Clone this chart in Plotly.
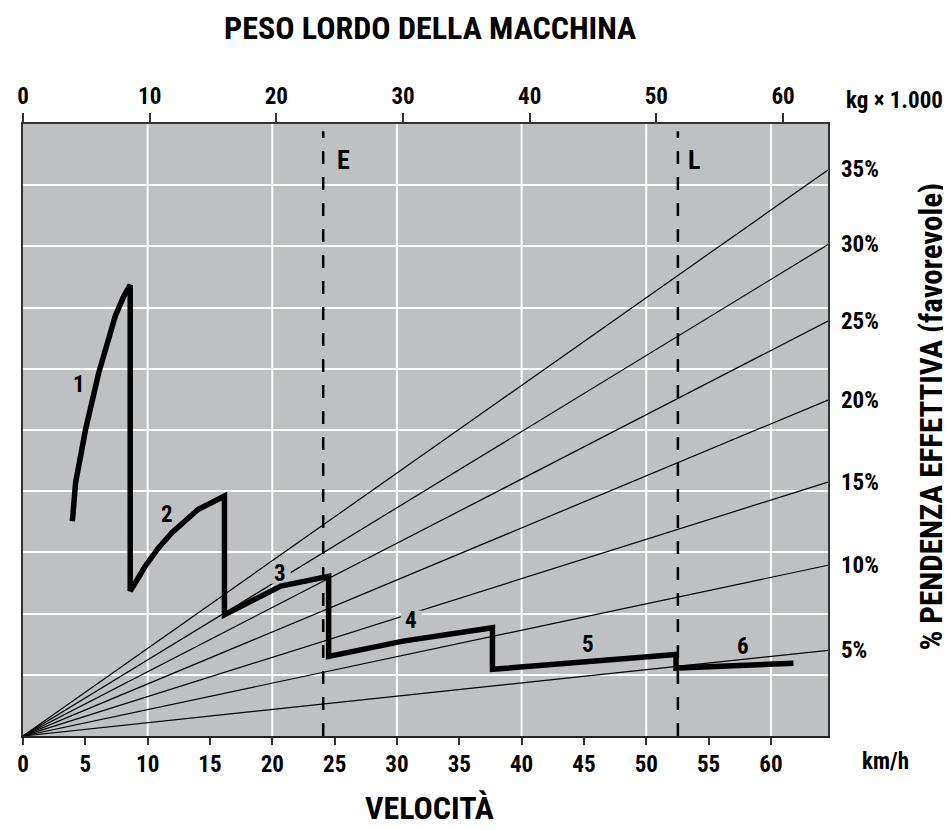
import plotly.graph_objects as go

# ---------------- data ----------------
SPEED = [3.96, 4.22, 5.02, 6.07, 7.40, 8.07, 8.60,
         8.60, 9.00, 9.79, 10.85, 11.92, 14.04, 16.16,
         16.16, 20.68, 24.52,
         24.52, 30.49, 37.66,
         37.66, 45.00, 52.39,
         52.39, 61.81]
FORCE = [3.51, 4.14, 5.01, 5.93, 6.86, 7.18, 7.37,
         2.37, 2.50, 2.77, 3.07, 3.32, 3.70, 3.92,
         1.98, 2.45, 2.61,
         1.30, 1.55, 1.77,
         1.09, 1.21, 1.33,
         1.11, 1.19]

GEAR_LABELS = ["1", "2", "3", "4", "5", "6"]
GEAR_X = [4.50, 11.54, 20.63, 31.16, 45.30, 57.77]
GEAR_Y = [5.74, 3.62, 2.66, 1.88, 1.49, 1.46]
GEAR_HALO = [False, False, True, True, False, False]

GRADES = [5, 10, 15, 20, 25, 30, 35]
GRADE_END_Y = [1.40, 2.79, 4.15, 5.49, 6.78, 8.03, 9.25]

WEIGHT_LABELS = ["E", "L"]
WEIGHT_KG = [23.7, 51.7]
WEIGHT_LABEL_X = [25.73, 53.84]
WEIGHT_LABEL_Y = [9.42, 9.42]

SPEED_TICKS = [0, 5, 10, 15, 20, 25, 30, 35, 40, 45, 50, 55, 60]
KG_TICKS = [0, 10, 20, 30, 40, 50, 60]
VGRID = [10, 20, 30, 40, 50, 60]

X_MAX = 64.58
KG_MAX = 63.55
Y_MAX = 10

FONT = "Roboto Condensed, DejaVu Sans Condensed, Roboto, sans-serif"
BG = "#bfc0c2"

fig = go.Figure()

# grade lines
for g, ye in zip(GRADES, GRADE_END_Y):
    fig.add_trace(go.Scatter(x=[0, X_MAX], y=[0, ye], mode="lines",
                             line=dict(color="black", width=1.2),
                             hoverinfo="skip", showlegend=False))

# knock-out halos behind some gear labels (cover grade lines only)
hx = [x for x, h in zip(GEAR_X, GEAR_HALO) if h]
hy = [y for y, h in zip(GEAR_Y, GEAR_HALO) if h]
fig.add_trace(go.Scatter(x=hx, y=hy, mode="markers",
                         marker=dict(symbol="square", size=21, color=BG, line=dict(width=0)),
                         hoverinfo="skip", showlegend=False))

# rimpull curve
fig.add_trace(go.Scatter(x=SPEED, y=FORCE, mode="lines",
                         line=dict(color="black", width=5.5),
                         showlegend=False))

# dummy trace for top axis
fig.add_trace(go.Scatter(x=[0, KG_MAX], y=[None, None], xaxis="x2",
                         mode="lines", showlegend=False, hoverinfo="skip"))

shapes = []
for v in VGRID:
    shapes.append(dict(type="line", xref="x", yref="y", x0=v, x1=v, y0=0, y1=Y_MAX,
                       line=dict(color="white", width=2), layer="below"))
for w in WEIGHT_KG:
    shapes.append(dict(type="line", xref="x2", yref="y", x0=w, x1=w, y0=0, y1=Y_MAX - 0.12,
                       line=dict(color="black", width=2.5, dash="13px,13px"), layer="above"))

annotations = []
for t, x, y in zip(GEAR_LABELS, GEAR_X, GEAR_Y):
    annotations.append(dict(x=x, y=y, xref="x", yref="y", text=t, showarrow=False,
                            font=dict(family=FONT, size=23, color="black", weight=700)))
for t, x, y in zip(WEIGHT_LABELS, WEIGHT_LABEL_X, WEIGHT_LABEL_Y):
    annotations.append(dict(x=x, y=y, xref="x", yref="y", text=t, showarrow=False,
                            font=dict(family=FONT, size=26, color="black", weight=700)))
for g, ye in zip(GRADES, GRADE_END_Y):
    annotations.append(dict(x=X_MAX, y=ye, xref="x", yref="y", text=f"{g}%",
                            showarrow=False, xanchor="left", yanchor="middle", xshift=11,
                            font=dict(family=FONT, size=23, color="black", weight=700)))

annotations += [
    dict(x=0.506, y=1.1573, xref="paper", yref="paper", text="PESO LORDO DELLA MACCHINA",
         xanchor="center", yanchor="middle",
         showarrow=False, font=dict(family=FONT, size=32, color="black", weight=700)),
    dict(x=0.505, y=-0.118, xref="paper", yref="paper", text="VELOCITÀ",
         xanchor="center", yanchor="middle",
         showarrow=False, font=dict(family=FONT, size=32, color="black", weight=700)),
    dict(x=1.128, y=0.522, xref="paper", yref="paper",
         text="% PENDENZA EFFETTIVA (favorevole)", textangle=-90,
         xanchor="center", yanchor="middle",
         showarrow=False, font=dict(family=FONT, size=31, color="black", weight=700)),
    dict(x=1.082, y=1.039, xref="paper", yref="paper", text="kg × 1.000",
         xanchor="center", yanchor="middle",
         showarrow=False, font=dict(family=FONT, size=23, color="black", weight=700)),
    dict(x=1.072, y=-0.0417, xref="paper", yref="paper", text="km/h",
         xanchor="center", yanchor="middle",
         showarrow=False, font=dict(family=FONT, size=23, color="black", weight=700)),
]

tickfont = dict(family=FONT, size=23, color="black", weight=700)

fig.update_layout(
    width=943, height=822,
    margin=dict(l=9, r=123, t=116, b=94),
    paper_bgcolor="white", plot_bgcolor=BG,
    showlegend=False,
    xaxis=dict(range=[0, X_MAX], tickvals=SPEED_TICKS, showgrid=False, zeroline=False,
               ticks="outside", ticklen=7, tickwidth=1.5, tickcolor="#333",
               showline=True, linecolor="#222", linewidth=1.5,
               tickfont=tickfont),
    xaxis2=dict(range=[0, KG_MAX], tickvals=KG_TICKS, overlaying="x", side="top",
                showgrid=False, zeroline=False, ticks="outside", ticklen=9, tickwidth=1.5,
                tickcolor="#333", showline=True, linecolor="#333", linewidth=1.5,
                tickfont=tickfont),
    yaxis=dict(range=[0, Y_MAX], dtick=1, showgrid=True, gridcolor="white", gridwidth=2,
               zeroline=False, showticklabels=False, ticks="",
               showline=True, linecolor="#333", linewidth=1.5, mirror=True),
    shapes=shapes,
    annotations=annotations,
)

fig.write_html("out.html")
